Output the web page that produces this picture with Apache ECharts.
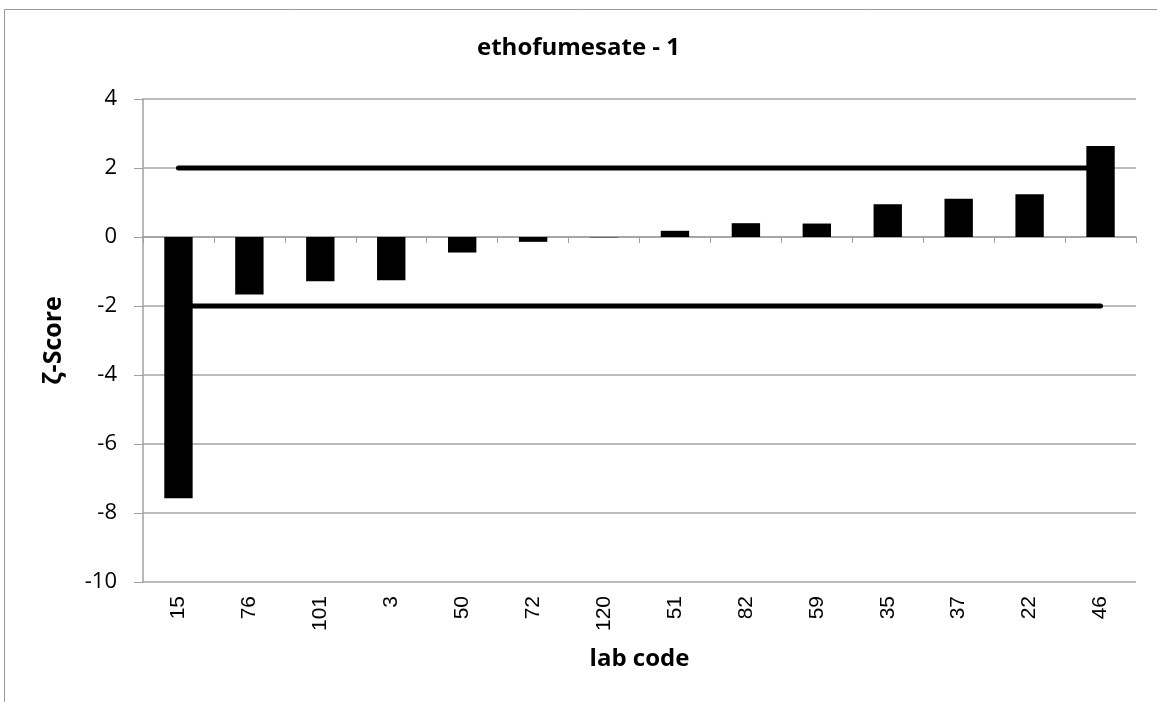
<!DOCTYPE html>
<html><head><meta charset="utf-8">
<script src="https://cdn.jsdelivr.net/npm/echarts@6/dist/echarts.min.js"></script>
<style>html,body{margin:0;padding:0;background:#fff}#c{width:1157px;height:702px}</style>
</head><body><div id="c"></div>
<script>
const categories = ['15','76','101','3','50','72','120','51','82','59','35','37','22','46'];
const zScores = [-7.57,-1.67,-1.28,-1.25,-0.45,-0.14,-0.01,0.18,0.40,0.39,0.95,1.11,1.24,2.64];
const upperLimit = [2,2,2,2,2,2,2,2,2,2,2,2,2,2];
const lowerLimit = [-2,-2,-2,-2,-2,-2,-2,-2,-2,-2,-2,-2,-2,-2];
const yTicks = {min:-10, max:4, interval:2};

const chart = echarts.init(document.getElementById('c'), null, {renderer:'canvas'});
const cal = '"Open Sans", Lato, sans-serif';
chart.setOption({
  animation:false,
  backgroundColor:'#fff',
  title:{text:'ethofumesate - 1', left:'center', top:31, textStyle:{fontFamily:cal, fontWeight:'bold', fontSize:24, color:'#000'}},
  graphic:[{type:'rect', shape:{x:4.5,y:9.5,width:1200,height:800}, style:{fill:null, stroke:'#999', lineWidth:1}, silent:true, z:-1}],
  grid:{left:143, right:21, top:99, bottom:120},
  xAxis:[
    {type:'category', data:categories, position:'bottom', axisLine:{show:false, onZero:false}, axisTick:{show:false},
     axisLabel:{rotate:90, fontFamily:'"Liberation Sans", Arial, sans-serif', fontSize:21, color:'#000', margin:14},
     name:'lab code', nameLocation:'middle', nameGap:65, nameTextStyle:{fontFamily:cal, fontWeight:'bold', fontSize:24, color:'#000'}},
    {type:'category', data:categories, position:'bottom', axisLine:{show:true, onZero:true, lineStyle:{color:'#a0a0a0', width:1.5}},
     axisTick:{show:true, length:6, lineStyle:{color:'#a0a0a0'}}, axisLabel:{show:false}}
  ],
  yAxis:{type:'value', min:yTicks.min, max:yTicks.max, interval:yTicks.interval,
    axisLine:{show:true, lineStyle:{color:'#a0a0a0', width:1.5}}, axisTick:{show:true, length:9, lineStyle:{color:'#a0a0a0'}},
    splitLine:{lineStyle:{color:'#a6a6a6', width:1.5}},
    axisLabel:{fontFamily:cal, fontSize:22, color:'#000', margin:26},
    name:'ζ-Score', nameLocation:'middle', nameGap:77, nameTextStyle:{fontFamily:cal, fontWeight:'bold', fontSize:25, color:'#000'}},
  series:[
    {type:'line', xAxisIndex:0, data:upperLimit, symbol:'none', lineStyle:{color:'#000', width:5, cap:'round'}, z:2},
    {type:'line', xAxisIndex:0, data:lowerLimit, symbol:'none', lineStyle:{color:'#000', width:5, cap:'round'}, z:2},
    {type:'bar', xAxisIndex:0, data:zScores, barWidth:'40%', itemStyle:{color:'#000'}, z:3}
  ]
});
</script></body></html>
